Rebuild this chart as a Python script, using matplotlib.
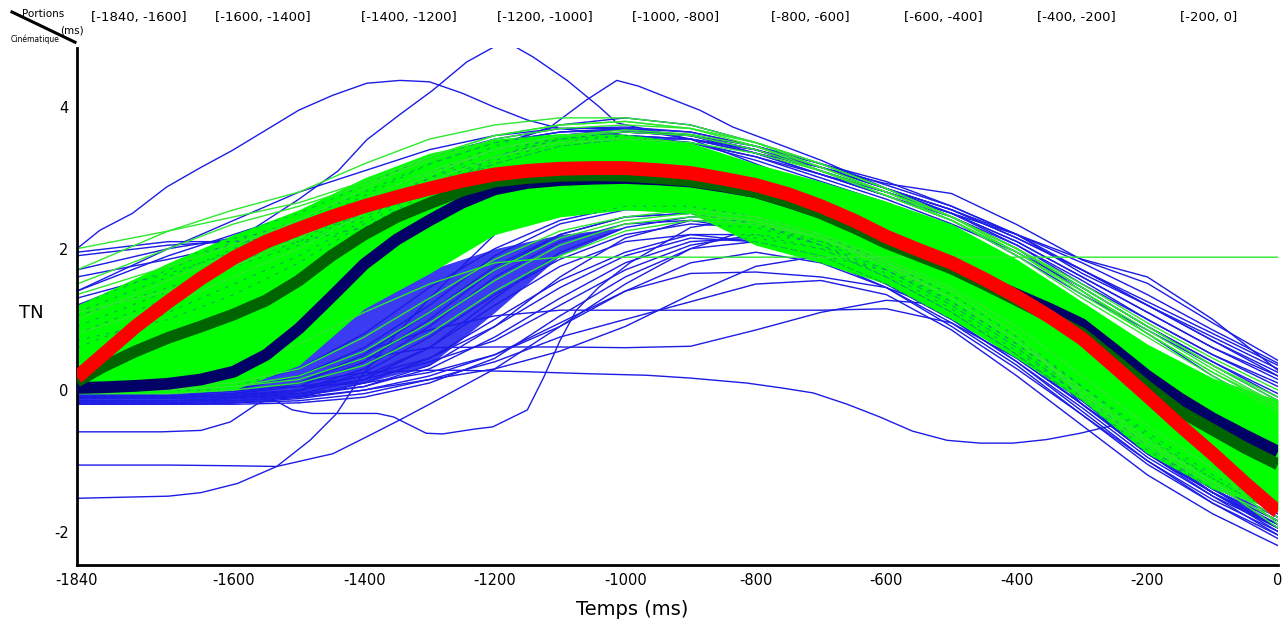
import numpy as np
import matplotlib.pyplot as plt
from matplotlib.lines import Line2D
import matplotlib.transforms as mtransforms

# time grid of the individual trials (ms)
temps = [-1840, -1700, -1600, -1500, -1400, -1300, -1200, -1100, -1000,
         -900, -800, -700, -600, -500, -400, -300, -200, -100, 0]

# finer time grid of the mean curves (ms)
temps_moy = [-1840, -1800, -1750, -1700, -1650, -1600, -1550, -1500, -1450,
             -1400, -1350, -1300, -1250, -1200, -1150, -1100, -1050, -1000,
             -950, -900, -850, -800, -750, -700, -650, -600, -550, -500,
             -450, -400, -350, -300, -250, -200, -150, -100, -50, 0]

# mean curves
moy_rouge = [0.18, 0.5, 0.9, 1.25, 1.58, 1.87, 2.1, 2.28, 2.45, 2.6, 2.73,
             2.85, 2.96, 3.05, 3.1, 3.13, 3.14, 3.14, 3.11, 3.07, 2.99, 2.9,
             2.77, 2.6, 2.4, 2.17, 1.98, 1.8, 1.57, 1.32, 1.04, 0.73, 0.33,
             -0.08, -0.5, -0.9, -1.32, -1.72]
moy_vert_fonce = [0.12, 0.33, 0.55, 0.74, 0.9, 1.07, 1.27, 1.55, 1.9, 2.2,
                  2.45, 2.64, 2.82, 2.95, 3.0, 3.03, 3.04, 3.03, 3.0, 2.96,
                  2.89, 2.8, 2.66, 2.5, 2.3, 2.08, 1.9, 1.72, 1.5, 1.27, 1.04,
                  0.8, 0.43, 0.05, -0.3, -0.56, -0.82, -1.05]
moy_marine = [0.03, 0.04, 0.06, 0.09, 0.15, 0.26, 0.5, 0.87, 1.32, 1.78, 2.13,
              2.4, 2.65, 2.84, 2.93, 2.97, 2.99, 3.0, 2.98, 2.95, 2.88, 2.8,
              2.66, 2.51, 2.31, 2.11, 1.92, 1.74, 1.55, 1.35, 1.15, 0.93, 0.57,
              0.2, -0.12, -0.4, -0.64, -0.87]

# dense green bundle (envelope)
vert_haut = [1.2, 1.8, 2.2, 2.55, 3.0, 3.35, 3.55, 3.63, 3.62, 3.5, 3.2,
             2.95, 2.67, 2.35, 1.85, 1.25, 0.65, 0.17, -0.14]
vert_bas = [-0.05, -0.05, 0.0, 0.35, 1.15, 1.65, 2.2, 2.45, 2.55, 2.5, 2.05,
            1.8, 1.5, 1.0, 0.45, -0.15, -0.9, -1.4, -1.7]

# dense blue bundle, left part (-1840 .. -1000)
bleu_haut = [-0.05, 0.0, 0.1, 0.45, 1.2, 1.7, 2.0, 2.2, 2.3]
bleu_bas = [-0.2, -0.2, -0.18, -0.1, 0.1, 0.35, 1.1, 1.9, 2.3]

# blue trials that stand out of the bundle, each with its own time samples
hors_t1 = [-1840, -1805, -1755, -1703, -1652, -1602, -1550, -1500, -1448,
           -1396, -1345, -1300, -1250, -1200, -1150, -1100, -1000, -900,
           -800, -700, -600, -500, -400, -300, -200, -100, 0]
hors_y1 = [2.0, 2.26, 2.5, 2.87, 3.14, 3.39, 3.68, 3.96, 4.17, 4.34, 4.38,
           4.36, 4.2, 4.0, 3.82, 3.7, 3.6, 3.5, 3.25, 2.95, 2.65, 2.3, 1.8,
           1.2, 0.6, 0.0, -0.5]
hors_t2 = [-1840, -1700, -1600, -1500, -1440, -1396, -1345, -1295, -1243,
           -1192, -1185, -1177, -1141, -1089, -1039, -1013, -950, -900, -800,
           -700, -600, -500, -400, -300, -200, -100, 0]
hors_y2 = [1.0, 1.6, 2.1, 2.7, 3.1, 3.54, 3.9, 4.24, 4.64, 4.9, 4.95, 4.9,
           4.71, 4.38, 4.0, 3.78, 3.65, 3.55, 3.2, 2.85, 2.55, 2.2, 1.7, 1.15,
           0.5, -0.1, -0.6]
hors_t3 = [-1840, -1700, -1600, -1500, -1400, -1300, -1200, -1115, -1060,
           -1013, -980, -936, -886, -835, -783, -700, -600, -500, -400, -300,
           -200, -100, 0]
hors_y3 = [0.9, 1.5, 1.9, 2.3, 2.7, 3.1, 3.45, 3.72, 4.1, 4.38, 4.3, 4.14,
           3.96, 3.72, 3.54, 3.25, 2.85, 2.45, 2.0, 1.4, 0.8, 0.2, -0.3]
hors_t4 = [-1840, -1700, -1600, -1500, -1400, -1300, -1250, -1200, -1150,
           -1120, -1050, -967, -900, -814, -760, -712, -660, -610, -560,
           -507, -456, -406, -355, -303, -253, -200, -100, 0]
hors_y4 = [-0.1, -0.1, -0.05, 0.1, 0.25, 0.28, 0.28, 0.27, 0.26, 0.25, 0.23,
           0.21, 0.17, 0.1, 0.03, -0.04, -0.2, -0.38, -0.58, -0.71, -0.75,
           -0.75, -0.7, -0.61, -0.5, -0.85, -1.45, -1.95]
hors_t5 = [-1840, -1710, -1650, -1605, -1563, -1542, -1510, -1480, -1380,
           -1355, -1305, -1280, -1230, -1203, -1150, -1125, -1100, -1075,
           -1040, -993, -900, -800, -700, -600, -500, -400, -300, -200,
           -100, 0]
hors_y5 = [-0.59, -0.59, -0.57, -0.45, -0.19, -0.12, -0.28, -0.33, -0.33,
           -0.38, -0.61, -0.62, -0.55, -0.52, -0.28, 0.18, 0.7, 1.13, 1.46,
           1.8, 2.3, 2.45, 2.25, 1.85, 1.35, 0.7, -0.2, -0.9, -1.45, -1.95]
hors_t6 = [-1840, -1700, -1600, -1534, -1448, -1396, -1345, -1300, -1200,
           -1100, -1000, -900, -800, -700, -600, -500, -400, -300, -200,
           -100, 0]
hors_y6 = [-1.06, -1.06, -1.07, -1.08, -0.9, -0.66, -0.42, -0.2, 0.3, 0.9,
           1.5, 2.0, 2.3, 2.1, 1.7, 1.2, 0.6, -0.05, -0.75, -1.35, -1.85]
hors_t7 = [-1840, -1700, -1650, -1594, -1534, -1483, -1442, -1406, -1350,
           -1300, -1200, -1100, -1000, -900, -800, -700, -600, -500, -400,
           -300, -200, -100, 0]
hors_y7 = [-1.53, -1.5, -1.45, -1.32, -1.08, -0.71, -0.33, 0.18, 0.8, 1.3,
           2.2, 2.7, 2.9, 2.85, 2.6, 2.3, 1.9, 1.45, 0.85, 0.0, -0.7, -1.3,
           -1.8]
hors_t = [hors_t1, hors_t2, hors_t3, hors_t4, hors_t5, hors_t6, hors_t7]
hors_y = [hors_y1, hors_y2, hors_y3, hors_y4, hors_y5, hors_y6, hors_y7]

# individual blue trials of the bundle
essais_bleus = [
    [1.4, 2.0, 2.4, 2.8, 3.1, 3.4, 3.6, 3.7, 3.7, 3.55, 3.35, 3.15, 2.92, 2.78, 2.34, 1.84, 1.51, 0.95, 0.42],
    [1.95, 2.1, 2.1, 2.15, 2.5, 3.0, 3.4, 3.6, 3.65, 3.6, 3.4, 3.1, 2.8, 2.5, 2.05, 1.5, 1.0, 0.5, 0.1],
    [1.4, 1.9, 2.2, 2.5, 2.9, 3.3, 3.55, 3.7, 3.72, 3.65, 3.45, 3.2, 2.9, 2.6, 2.2, 1.7, 1.2, 0.7, 0.2],
    [1.1, 1.6, 2.0, 2.3, 2.7, 3.1, 3.4, 3.55, 3.6, 3.55, 3.35, 3.05, 2.75, 2.45, 2.05, 1.55, 1.0, 0.5, 0.05],
    [0.8, 1.3, 1.8, 2.2, 2.6, 3.0, 3.3, 3.5, 3.55, 3.5, 3.3, 3.0, 2.7, 2.35, 1.95, 1.45, 0.9, 0.4, -0.1],
    [1.7, 2.0, 2.15, 2.3, 2.6, 3.05, 3.45, 3.75, 3.85, 3.75, 3.5, 3.2, 2.85, 2.5, 2.1, 1.6, 1.1, 0.6, 0.2],
    [0.6, 1.1, 1.5, 1.9, 2.4, 2.9, 3.3, 3.55, 3.65, 3.6, 3.45, 3.2, 2.95, 2.6, 2.2, 1.65, 1.2, 0.75, 0.3],
    [0.9, 1.4, 1.8, 2.1, 2.5, 2.9, 3.2, 3.45, 3.55, 3.55, 3.4, 3.15, 2.85, 2.55, 2.2, 1.85, 1.6, 1.0, 0.28],
    [1.2, 1.7, 2.1, 2.4, 2.8, 3.2, 3.5, 3.65, 3.7, 3.6, 3.35, 3.05, 2.75, 2.4, 1.9, 1.35, 0.85, 0.35, -0.15],
    [1.6, 1.85, 2.05, 2.3, 2.75, 3.2, 3.5, 3.65, 3.68, 3.6, 3.4, 3.1, 2.8, 2.45, 2.0, 1.45, 0.9, 0.4, -0.05],
    [1.05, 1.45, 1.75, 2.05, 2.45, 2.85, 3.2, 3.45, 3.55, 3.5, 3.3, 3.05, 2.8, 2.5, 2.1, 1.6, 1.1, 0.6, 0.15],
    [0.7, 1.0, 1.35, 1.8, 2.35, 2.85, 3.25, 3.5, 3.6, 3.55, 3.4, 3.15, 2.85, 2.55, 2.15, 1.7, 1.25, 0.8, 0.35],
    [1.9, 2.05, 2.1, 2.1, 2.3, 2.8, 3.3, 3.6, 3.7, 3.65, 3.45, 3.15, 2.85, 2.55, 2.15, 1.7, 1.2, 0.7, 0.25],
    [1.3, 1.65, 1.95, 2.2, 2.55, 2.95, 3.3, 3.55, 3.65, 3.6, 3.4, 3.1, 2.8, 2.5, 2.2, 1.8, 1.35, 0.85, 0.38],
    [-0.1, -0.1, -0.05, 0.1, 0.45, 0.6, 0.61, 0.61, 0.6, 0.62, 0.85, 1.1, 1.27, 1.2, 0.6, 0.0, -0.75, -1.35, -1.85],
    [-0.12, -0.1, 0.0, 0.2, 0.55, 0.85, 1.05, 1.13, 1.13, 1.13, 1.13, 1.13, 1.15, 0.95, 0.45, -0.2, -0.9, -1.45, -1.9],
    [0.0, 0.0, 0.02, 0.05, 0.1, 0.25, 0.5, 0.95, 1.4, 1.65, 1.67, 1.6, 1.45, 1.1, 0.55, -0.1, -0.85, -1.4, -1.95],
    [-0.1, -0.1, -0.08, 0.0, 0.3, 0.9, 1.6, 2.1, 2.35, 2.4, 2.25, 1.95, 1.55, 1.05, 0.45, -0.2, -0.85, -1.4, -1.85],
    [-0.15, -0.15, -0.12, -0.05, 0.15, 0.6, 1.2, 1.75, 2.1, 2.2, 2.1, 1.85, 1.45, 0.9, 0.3, -0.35, -1.0, -1.55, -2.0],
    [-0.05, -0.05, 0.0, 0.2, 0.6, 1.2, 1.9, 2.35, 2.55, 2.55, 2.4, 2.1, 1.7, 1.2, 0.6, 0.0, -0.7, -1.3, -1.8],
    [-0.12, -0.12, -0.1, 0.0, 0.2, 0.45, 0.9, 1.45, 1.9, 2.15, 2.1, 1.9, 1.5, 1.0, 0.4, -0.25, -0.95, -1.5, -1.95],
    [-0.08, -0.08, -0.05, 0.05, 0.4, 1.0, 1.7, 2.2, 2.45, 2.5, 2.35, 2.05, 1.65, 1.15, 0.55, -0.1, -0.8, -1.35, -1.8],
    [0.0, 0.0, 0.05, 0.3, 0.8, 1.45, 2.0, 2.4, 2.6, 2.6, 2.45, 2.2, 1.8, 1.3, 0.7, 0.05, -0.6, -1.2, -1.7],
    [-0.15, -0.15, -0.15, -0.1, 0.0, 0.2, 0.5, 0.9, 1.4, 1.8, 1.95, 1.8, 1.45, 0.95, 0.35, -0.35, -1.05, -1.6, -2.05],
    [-0.2, -0.2, -0.18, -0.15, -0.05, 0.15, 0.4, 0.75, 1.0, 1.25, 1.5, 1.55, 1.35, 0.85, 0.2, -0.5, -1.2, -1.75, -2.2],
    [-0.1, -0.1, -0.1, -0.05, 0.05, 0.3, 0.75, 1.3, 1.8, 2.1, 2.15, 2.0, 1.6, 1.1, 0.5, -0.15, -0.85, -1.45, -1.9],
    [-0.18, -0.18, -0.15, -0.1, 0.1, 0.45, 1.0, 1.55, 1.95, 2.2, 2.2, 2.0, 1.6, 1.1, 0.5, -0.15, -0.9, -1.5, -2.05],
    [-0.2, -0.2, -0.2, -0.18, -0.1, 0.1, 0.45, 1.05, 1.6, 2.0, 2.1, 1.9, 1.5, 1.0, 0.4, -0.3, -1.0, -1.6, -2.1],
    [-0.05, -0.05, -0.02, 0.1, 0.5, 1.1, 1.75, 2.2, 2.45, 2.5, 2.35, 2.05, 1.6, 1.1, 0.5, -0.2, -0.9, -1.45, -1.95],
    [-0.15, -0.15, -0.12, -0.08, 0.05, 0.35, 0.9, 1.6, 2.15, 2.4, 2.35, 2.1, 1.7, 1.2, 0.6, -0.1, -0.8, -1.4, -1.85],
    [0.0, 0.0, 0.0, 0.05, 0.2, 0.6, 1.3, 1.95, 2.3, 2.45, 2.4, 2.15, 1.75, 1.25, 0.65, 0.0, -0.7, -1.25, -1.75],
    [-0.08, -0.08, -0.06, 0.0, 0.15, 0.4, 0.7, 1.2, 1.7, 2.05, 2.2, 2.1, 1.8, 1.35, 0.75, 0.05, -0.65, -1.25, -1.75],
    [-0.2, -0.2, -0.18, -0.12, 0.0, 0.15, 0.3, 0.55, 0.9, 1.35, 1.75, 1.9, 1.7, 1.25, 0.65, -0.05, -0.8, -1.45, -2.0],
    [-0.1, -0.1, -0.1, -0.02, 0.25, 0.75, 1.35, 1.85, 2.2, 2.35, 2.3, 2.05, 1.7, 1.2, 0.6, -0.1, -0.8, -1.4, -1.9],
]

# individual green trials
essais_verts = [
    [1.7, 2.25, 2.55, 2.8, 3.2, 3.55, 3.75, 3.85, 3.85, 3.75, 3.5, 3.15, 2.8, 2.4, 1.9, 1.3, 0.75, 0.2, -0.3],
    [1.5, 2.0, 2.35, 2.6, 2.9, 3.25, 3.55, 3.7, 3.75, 3.7, 3.5, 3.2, 2.85, 2.45, 1.95, 1.35, 0.8, 0.25, -0.25],
    [1.0, 1.55, 1.95, 2.3, 2.7, 3.1, 3.4, 3.6, 3.65, 3.6, 3.4, 3.1, 2.75, 2.4, 1.95, 1.4, 0.85, 0.3, -0.2],
    [1.35, 1.75, 2.05, 2.4, 2.85, 3.3, 3.6, 3.75, 3.8, 3.7, 3.45, 3.1, 2.75, 2.4, 1.95, 1.4, 0.8, 0.25, -0.2],
    [2.0, 2.25, 2.45, 2.65, 2.95, 3.3, 3.6, 3.75, 3.8, 3.7, 3.5, 3.2, 2.85, 2.45, 2.0, 1.45, 0.9, 0.35, -0.15],
    [1.1, 1.4, 1.75, 2.15, 2.6, 3.05, 3.4, 3.6, 3.68, 3.62, 3.45, 3.15, 2.8, 2.45, 2.0, 1.45, 0.9, 0.35, -0.1],
    [0.8, 1.2, 1.6, 2.0, 2.5, 2.95, 3.3, 3.5, 3.55, 3.5, 3.35, 3.1, 2.8, 2.45, 2.0, 1.5, 0.95, 0.45, 0.0],
    [-0.05, -0.05, 0.0, 0.1, 0.35, 0.8, 1.4, 1.9, 2.25, 2.4, 2.35, 2.15, 1.8, 1.4, 0.8, -0.1, -0.8, -1.35, -1.85],
    [0.0, 0.0, 0.05, 0.2, 0.55, 1.1, 1.7, 2.15, 2.4, 2.5, 2.4, 2.15, 1.8, 1.3, 0.7, -0.05, -0.75, -1.3, -1.8],
    [0.02, 0.02, 0.05, 0.15, 0.45, 0.95, 1.55, 2.05, 2.35, 2.45, 2.4, 2.15, 1.75, 1.3, 0.7, 0.0, -0.7, -1.3, -1.95],
    [0.0, 0.1, 0.3, 0.65, 1.1, 1.5, 1.8, 1.88, 1.88, 1.88, 1.88, 1.88, 1.88, 1.88, 1.88, 1.88, 1.88, 1.88, 1.88],
    [0.05, 0.05, 0.1, 0.3, 0.75, 1.3, 1.85, 2.25, 2.45, 2.55, 2.45, 2.2, 1.85, 1.45, 0.9, 0.2, -0.5, -1.1, -1.9],
]

portions = ['[-1840, -1600]', '[-1600, -1400]', '[-1400, -1200]', '[-1200, -1000]',
            '[-1000, -800]', '[-800, -600]', '[-600, -400]', '[-400, -200]', '[-200, 0]']
portions_pos = [-1745, -1555, -1332, -1123, -923, -717, -513, -309, -107]
x_ticks = [-1840, -1600, -1400, -1200, -1000, -800, -600, -400, -200, 0]
y_ticks = [-2, 0, 2, 4]

fig = plt.figure(figsize=(12.87, 6.30), dpi=100)
ax = fig.add_axes([0.0598, 0.103, 0.9332, 0.821])

bleu = '#1c1ce6'

# blue trials under everything
ax.fill_between(temps[:9], bleu_bas, bleu_haut, color='#1818f0', alpha=0.85,
                lw=0, zorder=1)
for y in essais_bleus:
    ax.plot(temps, y, color=bleu, lw=1.0, zorder=1.5)
for t, y in zip(hors_t, hors_y):
    ax.plot(t, y, color=bleu, lw=1.0, zorder=1.5)

# green bundle
ax.fill_between(temps, vert_bas, vert_haut, color='#00ff00', lw=0, zorder=2)
# blue trials seen through the green bundle
for y in essais_bleus[1:14] + essais_bleus[20:]:
    ax.plot(temps, y, color='#2a2ae0', lw=0.8, alpha=0.4, zorder=2.2,
            ls=(0, (3, 6)))
for y in essais_verts:
    ax.plot(temps, y, color='#2ee82e', lw=1.0, zorder=2.5)

# means
ax.plot(temps_moy, moy_marine, color='#000066', lw=8.5, zorder=4,
        solid_capstyle='butt')
ax.plot(temps_moy, moy_vert_fonce, color='#006400', lw=8.5, zorder=5,
        solid_capstyle='butt')
ax.plot(temps_moy, moy_rouge, color='#ff0000', lw=10, zorder=6,
        solid_capstyle='butt')

ax.set_xlim(-1840, 0)
ax.set_ylim(-2.475, 4.84)
ax.spines['top'].set_visible(False)
ax.spines['right'].set_visible(False)
for s in ('left', 'bottom'):
    ax.spines[s].set_linewidth(2)
    ax.spines[s].set_color('black')
ax.set_xticks(x_ticks)
ax.set_xticklabels([str(v) for v in x_ticks])
ax.set_yticks(y_ticks)
ax.set_yticklabels([str(v) for v in y_ticks])
ax.tick_params(length=0, labelsize=10.5, pad=6)

fig.text(0.024, 0.503, 'TN', fontsize=13, ha='center', va='center')
fig.text(0.491, 0.032, 'Temps (ms)', fontsize=14, ha='center', va='center')

# portion labels above the axes
trans = mtransforms.blended_transform_factory(ax.transData, fig.transFigure)
for lab, xp in zip(portions, portions_pos):
    ax.text(xp, 0.973, lab, transform=trans, fontsize=9.5, ha='center',
            va='center', clip_on=False)

# corner header
fig.add_artist(Line2D([0.0093, 0.0583], [0.981, 0.933], color='black', lw=2.2,
                      transform=fig.transFigure))
fig.text(0.0334, 0.978, 'Portions', fontsize=7.5, ha='center', va='center')
fig.text(0.056, 0.952, '(ms)', fontsize=7.5, ha='center', va='center')
fig.text(0.027, 0.937, 'Cinématique', fontsize=5.5, ha='center', va='center')

fig.savefig('out.png', dpi=100)
